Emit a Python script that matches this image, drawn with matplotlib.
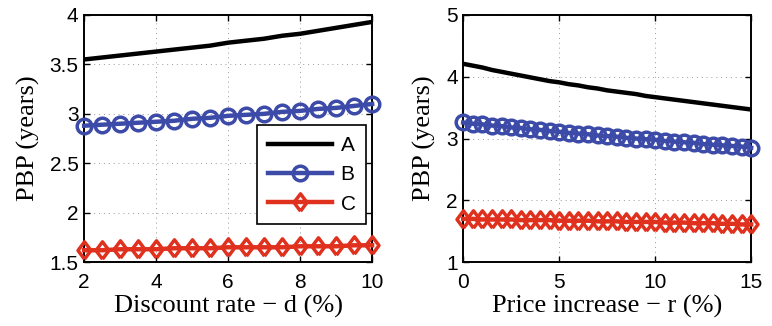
import matplotlib
matplotlib.use("Agg")
import matplotlib.pyplot as plt

# left panel: discount rate d (%)
d_rate = [2, 2.5, 3, 3.5, 4, 4.5, 5, 5.5, 6, 6.5, 7, 7.5, 8, 8.5, 9, 9.5, 10]
left_a = [3.55, 3.57, 3.59, 3.61, 3.63, 3.65, 3.67, 3.69, 3.72, 3.74, 3.76, 3.79,
          3.81, 3.84, 3.87, 3.90, 3.93]
left_b = [2.88, 2.89, 2.90, 2.91, 2.92, 2.93, 2.95, 2.96, 2.98, 2.99, 3.00, 3.02,
          3.03, 3.05, 3.06, 3.08, 3.10]
left_c = [1.62, 1.62, 1.63, 1.63, 1.63, 1.64, 1.64, 1.64, 1.65, 1.65, 1.65, 1.65,
          1.66, 1.66, 1.66, 1.67, 1.67]

# right panel: price increase r (%)
r_rate = [0, 0.5, 1, 1.5, 2, 2.5, 3, 3.5, 4, 4.5, 5, 5.5, 6, 6.5, 7, 7.5, 8, 8.5,
          9, 9.5, 10, 10.5, 11, 11.5, 12, 12.5, 13, 13.5, 14, 14.5, 15]
right_a = [4.21, 4.18, 4.15, 4.11, 4.08, 4.05, 4.02, 3.99, 3.96, 3.93, 3.91, 3.88,
           3.86, 3.83, 3.81, 3.78, 3.76, 3.74, 3.72, 3.69, 3.67, 3.65, 3.63, 3.61,
           3.59, 3.57, 3.55, 3.53, 3.51, 3.49, 3.47]
right_b = [3.26, 3.24, 3.23, 3.21, 3.20, 3.18, 3.17, 3.15, 3.14, 3.12, 3.11, 3.09,
           3.08, 3.07, 3.05, 3.04, 3.03, 3.01, 3.00, 2.99, 2.98, 2.96, 2.95, 2.94,
           2.93, 2.91, 2.90, 2.89, 2.88, 2.87, 2.85]
right_c = [1.70, 1.70, 1.69, 1.69, 1.69, 1.69, 1.68, 1.68, 1.68, 1.68, 1.67, 1.67,
           1.67, 1.67, 1.66, 1.66, 1.66, 1.65, 1.65, 1.65, 1.65, 1.64, 1.64, 1.64,
           1.63, 1.63, 1.63, 1.62, 1.62, 1.61, 1.61]

COLOR_A = "#000000"
COLOR_B = "#3c4aa8"
COLOR_C = "#e0301e"
TICK_FONT = "Liberation Sans"
LABEL_FONT = "Liberation Serif"
LW = 3.2
# MATLAB-style diamond: a bit taller than wide
DIAMOND = [(0, -1), (0.75, 0), (0, 1), (-0.75, 0), (0, -1)]


def style_axes(ax, xlim, ylim, xticks, yticks, xlabel):
    ax.set_xlim(*xlim)
    ax.set_ylim(*ylim)
    ax.set_xticks(xticks)
    ax.set_yticks(yticks)
    ax.set_xticklabels([f"{t:g}" for t in xticks], family=TICK_FONT, fontsize=15)
    ax.set_yticklabels([f"{t:g}" for t in yticks], family=TICK_FONT, fontsize=15)
    ax.tick_params(direction="in", top=True, right=True, length=4, width=1)
    ax.tick_params(axis="x", pad=8)
    ax.tick_params(axis="y", pad=4)
    ax.grid(True, color="#999999", linestyle=(0, (1, 4)), linewidth=0.7)
    for spine in ax.spines.values():
        spine.set_linewidth(1.4)
    ax.set_xlabel(xlabel, family=LABEL_FONT, fontsize=19, labelpad=2)
    ax.set_ylabel("PBP (years)", family=LABEL_FONT, fontsize=19, labelpad=7)


def draw(ax, x, a, b, c, labels=True):
    ax.plot(x, a, color=COLOR_A, linewidth=LW, label="A" if labels else None, zorder=3)
    ax.plot(x, b, color=COLOR_B, linewidth=LW, marker="o", markersize=10.5,
            markerfacecolor="none", markeredgewidth=2.5,
            label="B" if labels else None, zorder=3, clip_on=False)
    ax.plot(x, c, color=COLOR_C, linewidth=LW, marker=DIAMOND, markersize=12.5,
            markerfacecolor="none", markeredgewidth=2.5,
            label="C" if labels else None, zorder=3, clip_on=False)


fig = plt.figure(figsize=(7.72, 3.26), dpi=100)
ax1 = fig.add_axes([0.109, 0.196, 0.373, 0.758])
ax2 = fig.add_axes([0.600, 0.196, 0.373, 0.758])

draw(ax1, d_rate, left_a, left_b, left_c)
style_axes(ax1, (2, 10), (1.5, 4), [2, 4, 6, 8, 10], [1.5, 2, 2.5, 3, 3.5, 4],
           "Discount rate \u2212 d (%)")

draw(ax2, r_rate, right_a, right_b, right_c, labels=False)
style_axes(ax2, (0, 15), (1, 5), [0, 5, 10, 15], [1, 2, 3, 4, 5],
           "Price increase \u2212 r (%)")

leg = ax1.legend(loc="lower right", bbox_to_anchor=(0.979, 0.154),
                 borderaxespad=0, prop={"family": TICK_FONT, "size": 15},
                 fancybox=False, framealpha=1, edgecolor="black",
                 handlelength=3.1, borderpad=0.5, labelspacing=0.5,
                 handletextpad=0.4)
leg.get_frame().set_linewidth(1.2)

fig.savefig("out.png", dpi=100)
